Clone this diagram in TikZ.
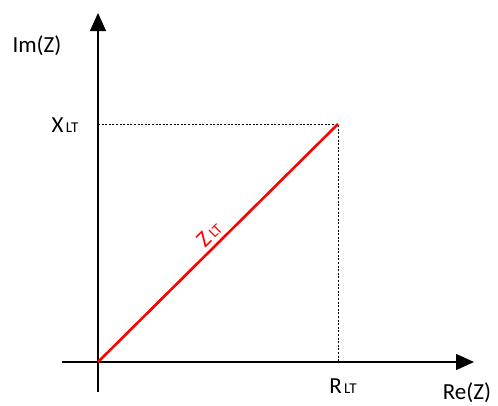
\documentclass[tikz,border=0pt]{standalone}
\usepackage{fontspec}
\setmainfont{Carlito}
\usepackage{tikz}
\usetikzlibrary{arrows.meta,positioning}
\definecolor{vermelho}{HTML}{FF0000}
\newcommand{\sub}[1]{{\fontsize{15}{15}\selectfont\,#1}}

\begin{document}
\begin{tikzpicture}[x=1pt, y=-1pt, font=\fontsize{23}{27}\selectfont,
  eixo/.style={line width=1.4pt, -{Triangle[length=18pt, width=16pt]}},
  guia/.style={line width=0.9pt, dash pattern=on 2pt off 1.6pt},
  fasor/.style={vermelho, line width=2.6pt},
  rot/.style={anchor=base, inner sep=0pt}]
  \useasboundingbox (0,0) rectangle (498,405);
  \coordinate (o) at (98,362);
  \coordinate (ybot) at (98,392);
  \coordinate (ytop) at (98,13);
  \coordinate (xesq) at (62,362);
  \coordinate (xdir) at (474,362);
  \coordinate (zt) at (338,124);
  \coordinate (xl) at (98,124);
  \coordinate (rl) at (338,362);
  \node[rot] (im) at (37,52) {Im(Z)};
  \node[rot] (re) at (467,399) {Re(Z)};
  \node[rot] (xlt) at (65,132) {X\sub{LT}};
  \node[rot] (rlt) at (343,393) {R\sub{LT}};
  \draw[eixo] (ybot) -- (ytop);
  \draw[eixo] (xesq) -- (xdir);
  \draw[guia] (xl) -- (zt) -- (rl);
  \draw[fasor] (o) -- node[above, sloped, midway, inner sep=4pt, text=vermelho] (zlt) {Z\sub{LT}} (zt);
\end{tikzpicture}
\end{document}
